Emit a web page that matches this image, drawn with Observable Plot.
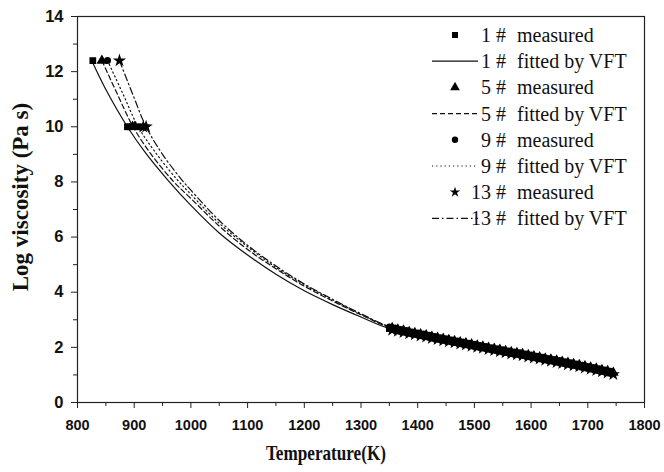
<!DOCTYPE html>
<html><head><meta charset="utf-8">
<script src="https://cdn.jsdelivr.net/npm/d3@7"></script>
<script src="https://cdn.jsdelivr.net/npm/@observablehq/plot@0.6"></script>
<style>
body{margin:0;background:#fff}
#wrap{position:relative;width:664px;height:472px}
#wrap svg{position:absolute;left:0;top:0}
</style>
</head><body><div id="wrap"></div>
<script>
// ---- tick labels ----
const xTicks = [800, 900, 1000, 1100, 1200, 1300, 1400, 1500, 1600, 1700, 1800];
const xMinor = [850, 950, 1050, 1150, 1250, 1350, 1450, 1550, 1650, 1750];
const yTicks = [0, 2, 4, 6, 8, 10, 12, 14];
const yMinor = [1, 3, 5, 7, 9, 11, 13];

// ---- series names ----
const seriesIds = ["1", "5", "9", "13"];

// ---- VFT fitted curves ----
const fitT1 = [825, 850, 888, 920, 960, 1000, 1050, 1100, 1150, 1200, 1250, 1300, 1350, 1400, 1500, 1600, 1700, 1745];
const fitV1 = [12.4, 11.35, 10.0, 9.05, 8.05, 7.15, 6.15, 5.35, 4.65, 4.05, 3.55, 3.1, 2.68, 2.46, 2.05, 1.66, 1.25, 1.05];
const fitT5 = [843, 870, 898, 930, 970, 1000, 1050, 1100, 1150, 1200, 1250, 1300, 1350, 1400, 1500, 1600, 1700, 1745];
const fitV5 = [12.4, 11.2, 10.0, 9.0, 8.0, 7.4, 6.4, 5.55, 4.85, 4.22, 3.68, 3.18, 2.72, 2.48, 2.06, 1.67, 1.26, 1.06];
const fitT9 = [853, 880, 907, 940, 975, 1000, 1050, 1100, 1150, 1200, 1250, 1300, 1350, 1400, 1500, 1600, 1700, 1745];
const fitV9 = [12.4, 11.2, 10.0, 9.0, 8.1, 7.55, 6.5, 5.65, 4.9, 4.27, 3.72, 3.2, 2.74, 2.49, 2.07, 1.67, 1.26, 1.06];
const fitT13 = [874, 897, 921, 950, 985, 1000, 1050, 1100, 1150, 1200, 1250, 1300, 1350, 1400, 1500, 1600, 1700, 1745];
const fitV13 = [12.4, 11.2, 10.0, 9.0, 8.05, 7.7, 6.6, 5.7, 4.95, 4.3, 3.74, 3.22, 2.75, 2.5, 2.07, 1.68, 1.27, 1.06];

// ---- measured, low temperature ----
const lowT1 = [827, 888, 893];
const lowV1 = [12.4, 10.0, 10.0];
const lowT5 = [843, 897, 901];
const lowV5 = [12.4, 10.0, 10.0];
const lowT9 = [853, 906, 911];
const lowV9 = [12.4, 10.0, 10.0];
const lowT13 = [874, 916, 921];
const lowV13 = [12.4, 10.0, 10.0];

// ---- measured, high temperature ----
const hiTA = [1350, 1360, 1370, 1380, 1390, 1400, 1410, 1420, 1430, 1440, 1450, 1460, 1470, 1480, 1490, 1500, 1510, 1520, 1530, 1540, 1550, 1560, 1570, 1580, 1590, 1600, 1610, 1620, 1630, 1640, 1650, 1660, 1670, 1680, 1690, 1700, 1710, 1720, 1730, 1740];
const hiTB = [1355, 1365, 1375, 1385, 1395, 1405, 1415, 1425, 1435, 1445, 1455, 1465, 1475, 1485, 1495, 1505, 1515, 1525, 1535, 1545, 1555, 1565, 1575, 1585, 1595, 1605, 1615, 1625, 1635, 1645, 1655, 1665, 1675, 1685, 1695, 1705, 1715, 1725, 1735, 1745];
const hiV1 = [2.68, 2.64, 2.59, 2.55, 2.50, 2.46, 2.42, 2.38, 2.33, 2.29, 2.25, 2.21, 2.17, 2.13, 2.09, 2.05, 2.01, 1.97, 1.93, 1.89, 1.85, 1.81, 1.77, 1.74, 1.70, 1.66, 1.62, 1.58, 1.54, 1.50, 1.46, 1.42, 1.38, 1.34, 1.29, 1.25, 1.21, 1.16, 1.12, 1.07];
const hiV5 = [2.70, 2.65, 2.61, 2.56, 2.52, 2.48, 2.44, 2.39, 2.35, 2.31, 2.27, 2.23, 2.19, 2.15, 2.11, 2.07, 2.03, 1.99, 1.95, 1.91, 1.87, 1.83, 1.80, 1.76, 1.72, 1.68, 1.64, 1.60, 1.56, 1.52, 1.48, 1.44, 1.40, 1.36, 1.32, 1.27, 1.23, 1.18, 1.14, 1.08];
const hiV9 = [2.74, 2.70, 2.65, 2.61, 2.56, 2.52, 2.48, 2.44, 2.39, 2.35, 2.31, 2.27, 2.23, 2.19, 2.15, 2.11, 2.07, 2.03, 1.99, 1.95, 1.91, 1.87, 1.83, 1.80, 1.76, 1.72, 1.68, 1.64, 1.60, 1.56, 1.52, 1.48, 1.44, 1.40, 1.35, 1.31, 1.27, 1.22, 1.18, 1.13];
const hiV13 = [2.63, 2.59, 2.55, 2.50, 2.46, 2.42, 2.38, 2.33, 2.29, 2.25, 2.21, 2.17, 2.13, 2.09, 2.05, 2.01, 1.97, 1.93, 1.89, 1.85, 1.81, 1.77, 1.74, 1.70, 1.66, 1.62, 1.58, 1.54, 1.50, 1.46, 1.42, 1.38, 1.34, 1.30, 1.26, 1.21, 1.17, 1.12, 1.08, 1.02];

const toRows = (T, V, s) => T.map((t, i) => ({T: t, V: V[i], s}));
const fits = {
  "1": toRows(fitT1, fitV1, "1"), "5": toRows(fitT5, fitV5, "5"),
  "9": toRows(fitT9, fitV9, "9"), "13": toRows(fitT13, fitV13, "13")
};
const measured = {
  "1": [...toRows(lowT1, lowV1, "1"), ...toRows(hiTA, hiV1, "1")],
  "5": [...toRows(lowT5, lowV5, "5"), ...toRows(hiTB, hiV5, "5")],
  "9": [...toRows(lowT9, lowV9, "9"), ...toRows(hiTA, hiV9, "9")],
  "13": [...toRows(lowT13, lowV13, "13"), ...toRows(hiTB, hiV13, "13")]
};
const dashes = {"1": null, "5": "5,3", "9": "1.2,3", "13": "7,3,1.5,3"};
const symbols = {"1": "square", "5": "triangle", "9": "circle", "13": "star"};
const sizes = {"1": 3.8, "5": 4.0, "9": 3.5, "13": 4.2};

const W = 664, H = 472, mL = 77, mR = 20, mT = 16, mB = 70;
const tickFont = "Liberation Sans, Arial, sans-serif";

const marks = [];
for (const s of seriesIds) {
  marks.push(Plot.line(fits[s], {x: "T", y: "V", curve: "catmull-rom", stroke: "#111", strokeWidth: 1.2, strokeDasharray: dashes[s]}));
}
for (const s of seriesIds) {
  marks.push(Plot.dot(measured[s], {x: "T", y: "V", symbol: symbols[s], r: sizes[s], fill: "#000", stroke: "none"}));
}
marks.push(
  Plot.axisX({ticks: xTicks, tickSize: 6, tickPadding: 11, tickFormat: d => String(d), fontSize: 14.5, fontWeight: "bold", fontFamily: tickFont, label: null, stroke: "#222"}),
  Plot.axisX({ticks: xMinor, tickSize: 4, tickFormat: () => "", label: null, stroke: "#222"}),
  Plot.axisY({ticks: yTicks, tickSize: 6, tickPadding: 8, tickFormat: d => String(d), fontSize: 16.5, fontWeight: "bold", fontFamily: tickFont, label: null, stroke: "#222"}),
  Plot.axisY({ticks: yMinor, tickSize: 4, tickFormat: () => "", label: null, stroke: "#222"}),
  Plot.frame({stroke: "#222", strokeWidth: 1.2})
);

const chart = Plot.plot({
  width: W, height: H,
  marginLeft: mL, marginRight: mR, marginTop: mT, marginBottom: mB,
  style: {background: "#fff", color: "#111", overflow: "visible"},
  x: {domain: [800, 1800]},
  y: {domain: [0, 14]},
  marks
});
document.getElementById("wrap").appendChild(chart);

// ---- overlay: titles and legend ----
const ov = d3.select("#wrap").append("svg").attr("width", W).attr("height", H)
  .style("font-family", "Liberation Serif, Times New Roman, serif").style("pointer-events", "none");
ov.append("text").attr("x", 326).attr("y", 460).attr("text-anchor", "middle")
  .attr("font-size", 21).attr("font-weight", "bold").attr("fill", "#111")
  .attr("textLength", 120).attr("lengthAdjust", "spacingAndGlyphs").text("Temperature(K)");
ov.append("text").attr("transform", "translate(28,197) rotate(-90)").attr("text-anchor", "middle")
  .attr("font-size", 23).attr("font-weight", "bold").attr("fill", "#111").text("Log viscosity (Pa s)");

const legendRows = [];
for (const s of seriesIds) {
  legendRows.push({s, kind: "m", label: "measured"});
  legendRows.push({s, kind: "f", label: "fitted by VFT"});
}
const symMap = {square: d3.symbolSquare, triangle: d3.symbolTriangle, circle: d3.symbolCircle, star: d3.symbolStar};
const symArea = {"1": 36, "5": 40, "9": 32, "13": 34};
legendRows.forEach((r, i) => {
  const y = 35 + i * 26.2;
  if (r.kind === "m") {
    ov.append("path").attr("d", d3.symbol(symMap[symbols[r.s]], symArea[r.s])()).attr("transform", `translate(455,${y})`).attr("fill", "#000");
  } else {
    ov.append("line").attr("x1", 432).attr("x2", 478).attr("y1", y).attr("y2", y)
      .attr("stroke", "#111").attr("stroke-width", 1.2).attr("stroke-dasharray", dashes[r.s]);
  }
  ov.append("text").attr("x", 506).attr("y", y).attr("dy", "0.35em").attr("text-anchor", "end")
    .attr("font-size", 20).attr("fill", "#111").text(r.s + " #");
  ov.append("text").attr("x", 517).attr("y", y).attr("dy", "0.35em")
    .attr("font-size", 20).attr("fill", "#111").text(r.label);
});
</script>
</body></html>
